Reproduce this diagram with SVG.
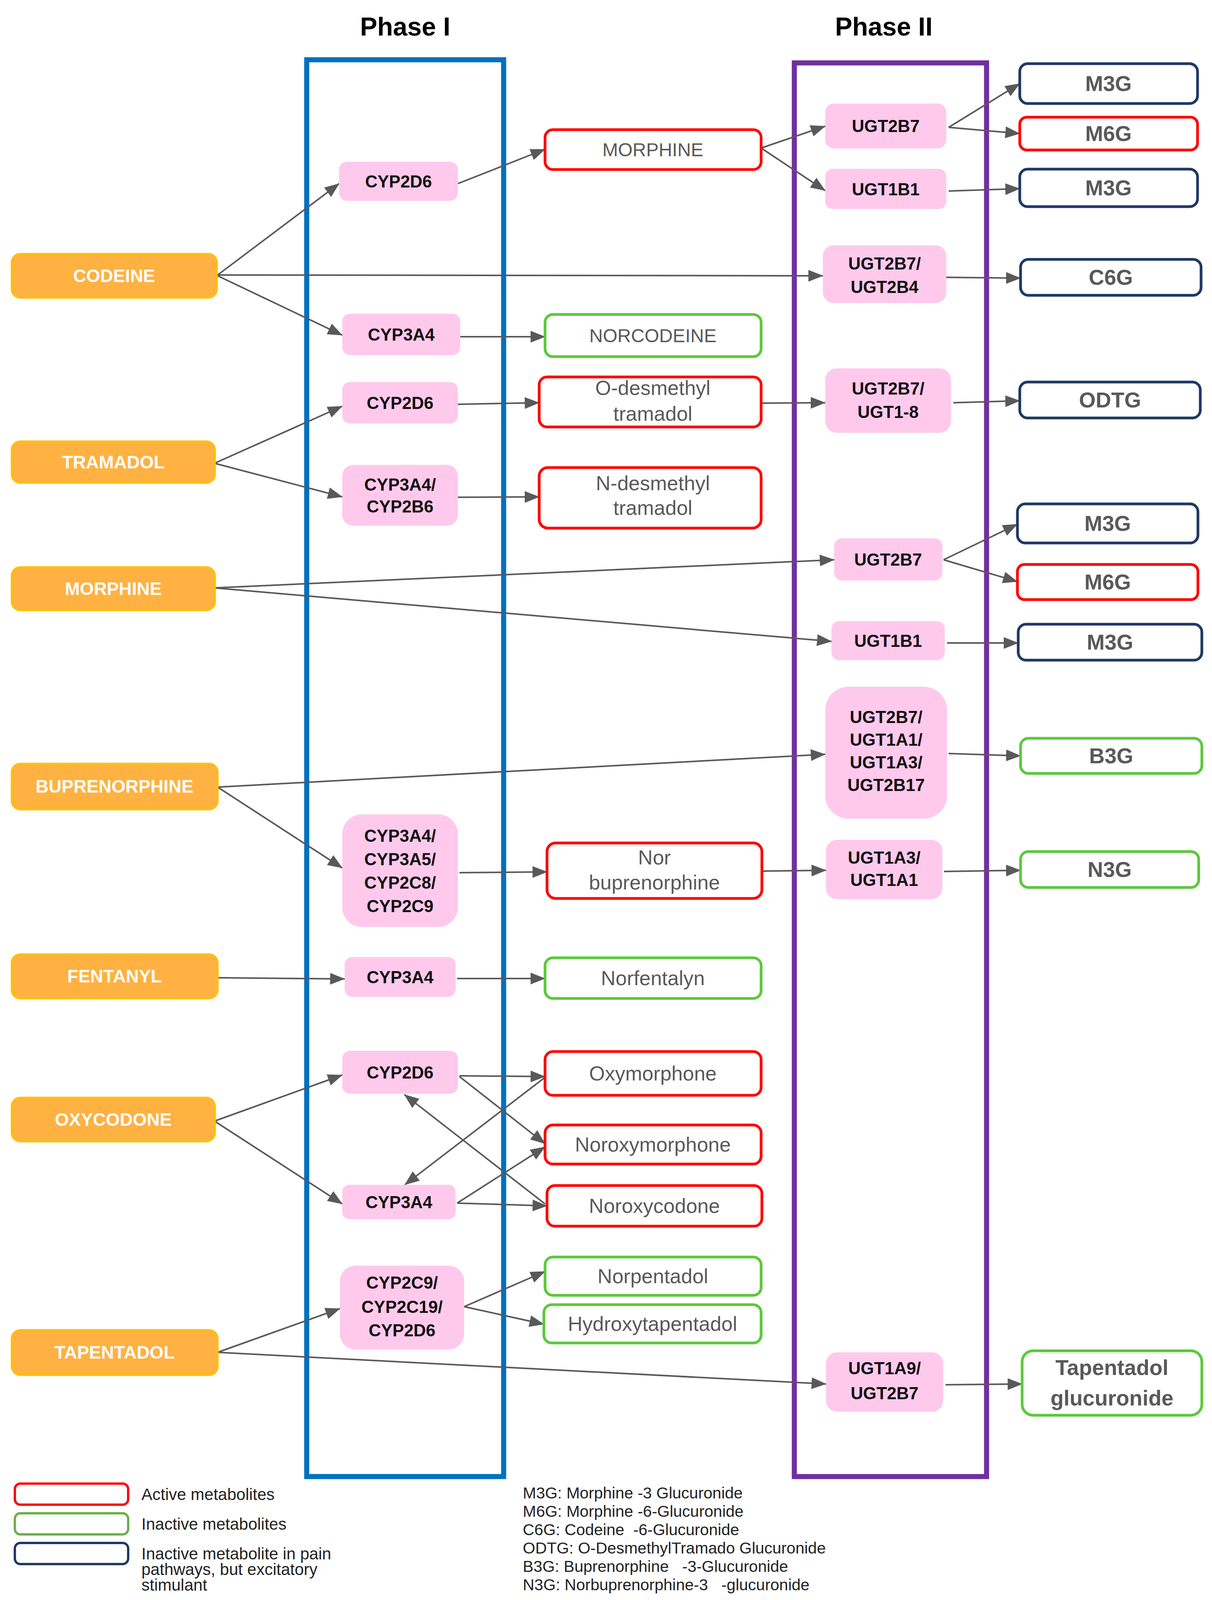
<svg xmlns="http://www.w3.org/2000/svg" width="3102" height="4397" viewBox="0 0 3102 4397">
<defs>
<marker id="arr" markerUnits="userSpaceOnUse" markerWidth="38" markerHeight="32" viewBox="0 0 38 32" refX="37" refY="16" orient="auto">
<path d="M0,1 L38,16 L0,31 z" fill="#595959"/>
</marker>
</defs>
<style>
text{font-family:"Liberation Sans",Arial,sans-serif;text-anchor:middle;dominant-baseline:central}
.title{font-size:66px;font-weight:bold;fill:#000}
.src rect{fill:#FFB142;stroke:#FFC000;stroke-width:5}
.src text{font-size:46px;font-weight:bold;fill:#fff}
.enz rect{fill:#FFC9EC}
.enz text{font-size:44px;font-weight:bold;fill:#111}
.met rect{fill:#fff;stroke-width:7}
.act rect{stroke:#FF0000}
.ina rect{stroke:#5CC83A}
.exc rect{stroke:#1F3864}
.met text{font-size:52px;fill:#595959}
.met text.up{font-size:48px}
.gl text{font-size:55px;font-weight:bold;fill:#595959}
.phase{fill:none;stroke-width:13}
#connectors path{fill:none;stroke:#595959;stroke-width:4;marker-end:url(#arr)}
.leg text{text-anchor:start;dominant-baseline:auto;font-size:42px;fill:#222;white-space:pre}
.leg text.r{font-size:41px}
.legbox{fill:#fff;stroke-width:6}
</style>
<rect width="3102" height="4397" fill="#fff"/>
<g id="phase1">
<rect class="phase" x="785" y="153" width="504" height="3627" stroke="#0070C0"/>
<text class="title" x="1037" y="68">Phase I</text>
</g>
<g id="phase2">
<rect class="phase" x="2033" y="161" width="492" height="3619" stroke="#7030A0"/>
<text class="title" x="2262" y="68">Phase II</text>
</g>
<g id="connectors">
<path d="M557,704 L868,470"/>
<path d="M557,704 L2106,706"/>
<path d="M557,706 L876,858"/>
<path d="M1172,470 L1395,382"/>
<path d="M1948,379 L2112,323"/>
<path d="M1948,379 L2112,488"/>
<path d="M2428,326 L2610,214"/>
<path d="M2428,326 L2610,342"/>
<path d="M2428,489 L2610,483"/>
<path d="M2422,710 L2612,712"/>
<path d="M1178,862 L1395,862"/>
<path d="M549,1186 L876,1040"/>
<path d="M549,1186 L876,1272"/>
<path d="M1172,1035 L1380,1031"/>
<path d="M1948,1032 L2112,1031"/>
<path d="M2440,1031 L2610,1026"/>
<path d="M1172,1273 L1380,1272"/>
<path d="M549,1505 L2135,1433"/>
<path d="M549,1505 L2128,1642"/>
<path d="M2415,1433 L2604,1342"/>
<path d="M2415,1433 L2604,1489"/>
<path d="M2424,1646 L2606,1646"/>
<path d="M557,2015 L2112,1931"/>
<path d="M557,2015 L876,2222"/>
<path d="M2428,1929 L2612,1935"/>
<path d="M1176,2234 L1400,2232"/>
<path d="M1951,2230 L2114,2228"/>
<path d="M2416,2231 L2612,2228"/>
<path d="M557,2503 L882,2506"/>
<path d="M1170,2505 L1395,2505"/>
<path d="M549,2870 L876,2752"/>
<path d="M549,2870 L876,3082"/>
<path d="M1176,2754 L1395,2756"/>
<path d="M1176,2756 L1395,2928"/>
<path d="M1170,3080 L1395,2936"/>
<path d="M1170,3080 L1400,3087"/>
<path d="M1395,3082 L1035,2802"/>
<path d="M1395,2758 L1036,3033"/>
<path d="M1188,3345 L1395,3255"/>
<path d="M1188,3345 L1392,3390"/>
<path d="M557,3462 L870,3350"/>
<path d="M557,3462 L2114,3543"/>
<path d="M2420,3545 L2616,3543"/>
</g>
<g id="codeine" class="src"><rect x="30" y="650" width="525" height="112" rx="22"/><text x="292" y="706">CODEINE</text></g>
<g id="tramadol" class="src"><rect x="30" y="1130" width="520" height="106" rx="22"/><text x="290" y="1183">TRAMADOL</text></g>
<g id="morphine-src" class="src"><rect x="30" y="1452" width="520" height="110" rx="22"/><text x="290" y="1507">MORPHINE</text></g>
<g id="buprenorphine" class="src"><rect x="30" y="1955" width="527" height="117" rx="22"/><text x="293" y="2013">BUPRENORPHINE</text></g>
<g id="fentanyl" class="src"><rect x="30" y="2443" width="527" height="113" rx="22"/><text x="293" y="2499">FENTANYL</text></g>
<g id="oxycodone" class="src"><rect x="30" y="2810" width="520" height="112" rx="22"/><text x="290" y="2866">OXYCODONE</text></g>
<g id="tapentadol" class="src"><rect x="30" y="3405" width="527" height="115" rx="22"/><text x="293" y="3462">TAPENTADOL</text></g>

<g id="cyp2d6-a" class="enz"><rect x="868" y="414" width="304" height="100" rx="20"/><text x="1020" y="464">CYP2D6</text></g>
<g id="cyp3a4-a" class="enz"><rect x="876" y="803" width="302" height="106" rx="20"/><text x="1027" y="856">CYP3A4</text></g>
<g id="cyp2d6-b" class="enz"><rect x="876" y="978" width="296" height="106" rx="20"/><text x="1024" y="1031">CYP2D6</text></g>
<g id="cyp3a4-2b6" class="enz"><rect x="876" y="1190" width="296" height="156" rx="28"/><text x="1024" y="1240">CYP3A4/</text><text x="1024" y="1296">CYP2B6</text></g>
<g id="cyp3a4-3a5-2c8-2c9" class="enz"><rect x="876" y="2085" width="296" height="288" rx="50"/><text x="1024" y="2139">CYP3A4/</text><text x="1024" y="2199">CYP3A5/</text><text x="1024" y="2259">CYP2C8/</text><text x="1024" y="2319">CYP2C9</text></g>
<g id="cyp3a4-b" class="enz"><rect x="882" y="2450" width="284" height="102" rx="20"/><text x="1024" y="2501">CYP3A4</text></g>
<g id="cyp2d6-c" class="enz"><rect x="876" y="2690" width="296" height="110" rx="20"/><text x="1024" y="2745">CYP2D6</text></g>
<g id="cyp3a4-c" class="enz"><rect x="876" y="3033" width="290" height="88" rx="18"/><text x="1021" y="3077">CYP3A4</text></g>
<g id="cyp2c9-2c19-2d6" class="enz"><rect x="870" y="3240" width="318" height="215" rx="40"/><text x="1029" y="3283">CYP2C9/</text><text x="1029" y="3345">CYP2C19/</text><text x="1029" y="3405">CYP2D6</text></g>

<g id="ugt2b7-a" class="enz"><rect x="2112" y="265" width="310" height="115" rx="22"/><text x="2267" y="322">UGT2B7</text></g>
<g id="ugt1b1-a" class="enz"><rect x="2112" y="432" width="310" height="103" rx="20"/><text x="2267" y="484">UGT1B1</text></g>
<g id="ugt2b7-2b4" class="enz"><rect x="2106" y="628" width="316" height="148" rx="28"/><text x="2264" y="674">UGT2B7/</text><text x="2264" y="734">UGT2B4</text></g>
<g id="ugt2b7-1-8" class="enz"><rect x="2112" y="943" width="322" height="165" rx="30"/><text x="2273" y="994">UGT2B7/</text><text x="2273" y="1054">UGT1-8</text></g>
<g id="ugt2b7-b" class="enz"><rect x="2135" y="1378" width="277" height="108" rx="20"/><text x="2273" y="1432">UGT2B7</text></g>
<g id="ugt1b1-b" class="enz"><rect x="2128" y="1590" width="290" height="100" rx="20"/><text x="2273" y="1640">UGT1B1</text></g>
<g id="ugt2b7-1a1-1a3-2b17" class="enz"><rect x="2112" y="1758" width="312" height="338" rx="60"/><text x="2268" y="1835">UGT2B7/</text><text x="2268" y="1893">UGT1A1/</text><text x="2268" y="1951">UGT1A3/</text><text x="2268" y="2009">UGT2B17</text></g>
<g id="ugt1a3-1a1" class="enz"><rect x="2114" y="2150" width="298" height="152" rx="28"/><text x="2263" y="2195">UGT1A3/</text><text x="2263" y="2252">UGT1A1</text></g>
<g id="ugt1a9-2b7" class="enz"><rect x="2114" y="3462" width="300" height="152" rx="28"/><text x="2264" y="3502">UGT1A9/</text><text x="2264" y="3566">UGT2B7</text></g>

<g id="morphine-met" class="met act"><rect x="1395" y="332" width="553" height="102" rx="20"/><text class="up" x="1671" y="383">MORPHINE</text></g>
<g id="norcodeine" class="met ina"><rect x="1395" y="805" width="553" height="108" rx="20"/><text class="up" x="1671" y="859">NORCODEINE</text></g>
<g id="o-desmethyl" class="met act"><rect x="1380" y="965" width="568" height="128" rx="20"/><text x="1671" y="993">O-desmethyl</text><text x="1671" y="1059">tramadol</text></g>
<g id="n-desmethyl" class="met act"><rect x="1380" y="1197" width="568" height="155" rx="22"/><text x="1671" y="1237">N-desmethyl</text><text x="1671" y="1300">tramadol</text></g>
<g id="norbuprenorphine" class="met act"><rect x="1400" y="2158" width="550" height="142" rx="22"/><text x="1675" y="2195">Nor</text><text x="1675" y="2259">buprenorphine</text></g>
<g id="norfentalyn" class="met ina"><rect x="1395" y="2452" width="553" height="104" rx="20"/><text x="1671" y="2504">Norfentalyn</text></g>
<g id="oxymorphone" class="met act"><rect x="1395" y="2692" width="553" height="112" rx="20"/><text x="1671" y="2748">Oxymorphone</text></g>
<g id="noroxymorphone" class="met act"><rect x="1395" y="2880" width="553" height="100" rx="20"/><text x="1671" y="2930">Noroxymorphone</text></g>
<g id="noroxycodone" class="met act"><rect x="1400" y="3035" width="550" height="104" rx="20"/><text x="1675" y="3087">Noroxycodone</text></g>
<g id="norpentadol" class="met ina"><rect x="1395" y="3218" width="553" height="98" rx="20"/><text x="1671" y="3267">Norpentadol</text></g>
<g id="hydroxytapentadol" class="met ina"><rect x="1392" y="3340" width="556" height="98" rx="20"/><text x="1670" y="3389">Hydroxytapentadol</text></g>

<g id="m3g-a" class="met exc gl"><rect x="2610" y="163" width="455" height="102" rx="20"/><text x="2837" y="214">M3G</text></g>
<g id="m6g-a" class="met act gl"><rect x="2610" y="300" width="455" height="84" rx="18"/><text x="2837" y="342">M6G</text></g>
<g id="m3g-b" class="met exc gl"><rect x="2610" y="433" width="455" height="96" rx="20"/><text x="2837" y="481">M3G</text></g>
<g id="c6g" class="met exc gl"><rect x="2612" y="664" width="462" height="92" rx="20"/><text x="2843" y="710">C6G</text></g>
<g id="odtg" class="met exc gl"><rect x="2610" y="978" width="462" height="92" rx="20"/><text x="2841" y="1024">ODTG</text></g>
<g id="m3g-c" class="met exc gl"><rect x="2604" y="1290" width="462" height="100" rx="20"/><text x="2835" y="1340">M3G</text></g>
<g id="m6g-b" class="met act gl"><rect x="2604" y="1445" width="462" height="90" rx="18"/><text x="2835" y="1490">M6G</text></g>
<g id="m3g-d" class="met exc gl"><rect x="2606" y="1598" width="470" height="92" rx="20"/><text x="2841" y="1644">M3G</text></g>
<g id="b3g" class="met ina gl"><rect x="2612" y="1890" width="464" height="90" rx="20"/><text x="2844" y="1935">B3G</text></g>
<g id="n3g" class="met ina gl"><rect x="2612" y="2180" width="456" height="92" rx="20"/><text x="2840" y="2226">N3G</text></g>
<g id="tapentadol-glucuronide" class="met ina gl"><rect x="2616" y="3458" width="460" height="165" rx="28"/><text x="2846" y="3501">Tapentadol</text><text x="2846" y="3579">glucuronide</text></g>

<g id="legend" class="leg">
<rect class="legbox" x="38" y="3798" width="290" height="54" rx="14" stroke="#FF0000"/>
<rect class="legbox" x="38" y="3874" width="290" height="54" rx="14" stroke="#6AB04C"/>
<rect class="legbox" x="38" y="3950" width="290" height="54" rx="14" stroke="#1F3864"/>
<text x="362" y="3840">Active metabolites</text>
<text x="362" y="3916">Inactive metabolites</text>
<text x="362" y="3992">Inactive metabolite in pain</text>
<text x="362" y="4032">pathways, but excitatory</text>
<text x="362" y="4072">stimulant</text>
<text class="r" x="1338" y="3836">M3G: Morphine -3 Glucuronide</text>
<text class="r" x="1338" y="3883">M6G: Morphine -6-Glucuronide</text>
<text class="r" x="1338" y="3930">C6G: Codeine  -6-Glucuronide</text>
<text class="r" x="1338" y="3977">ODTG: O-DesmethylTramado Glucuronide</text>
<text class="r" x="1338" y="4024">B3G: Buprenorphine   -3-Glucuronide</text>
<text class="r" x="1338" y="4071">N3G: Norbuprenorphine-3   -glucuronide</text>
</g>
</svg>
